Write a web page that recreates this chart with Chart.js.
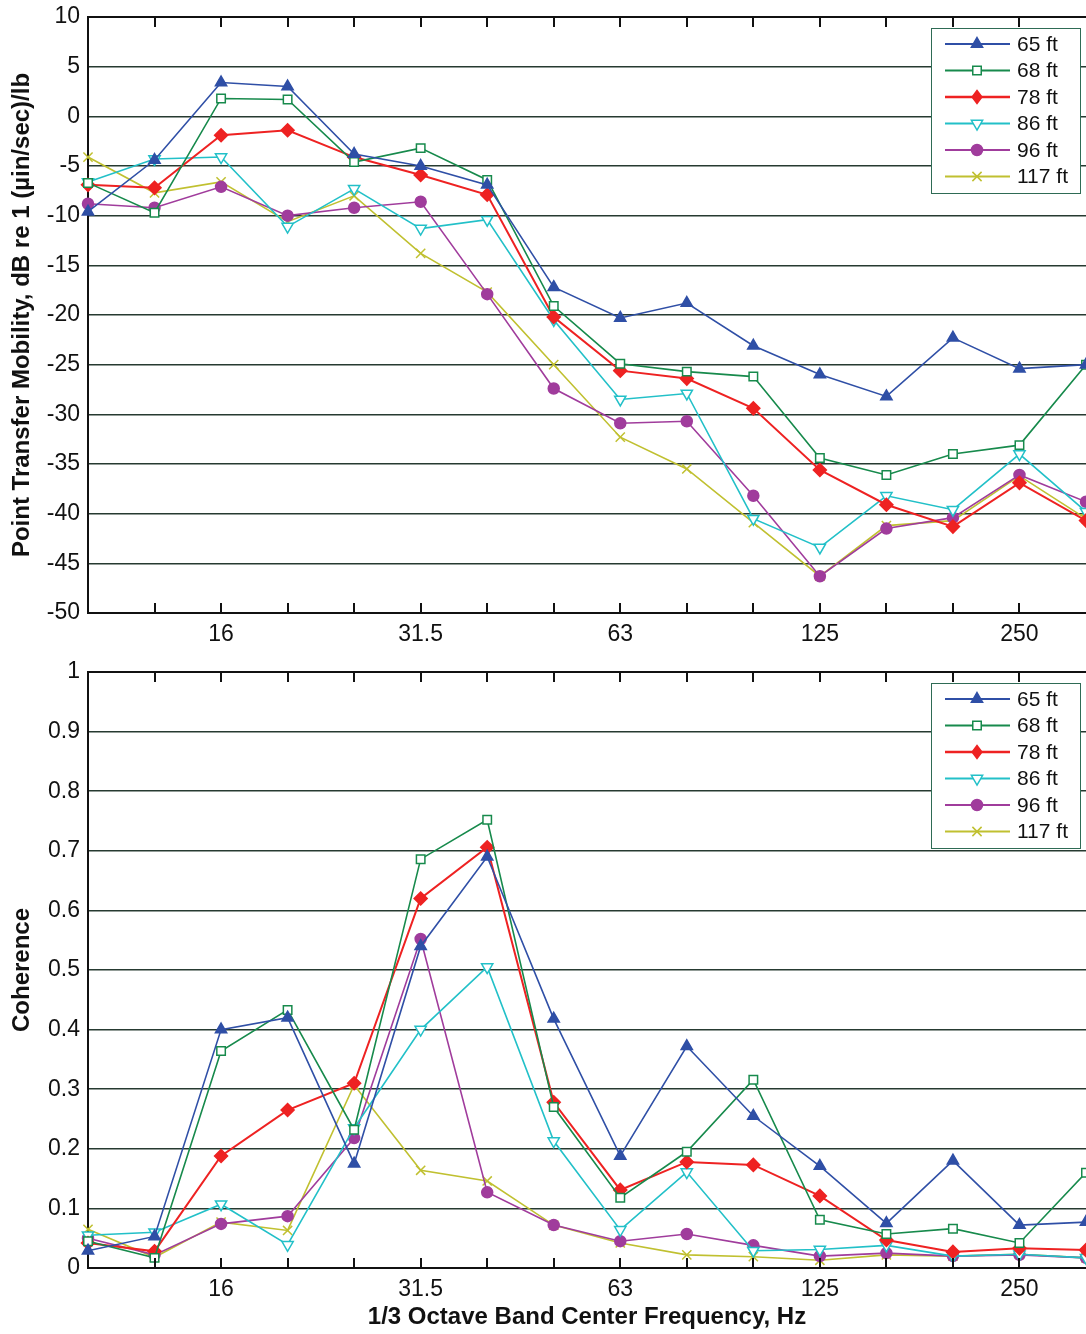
<!DOCTYPE html>
<html>
<head>
<meta charset="utf-8">
<script src="https://cdn.jsdelivr.net/npm/chart.js@4/dist/chart.umd.min.js"></script>
<style>
  html, body { margin: 0; padding: 0; background: #fff; }
  #wrap { position: relative; width: 1086px; height: 1334px; overflow: hidden; }
  canvas { position: absolute; left: 0; }
  #c1 { top: 0; }
  #c2 { top: 650px; }
</style>
</head>
<body>
<div id="wrap">
  <canvas id="c1" width="1086" height="650"></canvas>
  <canvas id="c2" width="1086" height="684"></canvas>
</div>
<script>
// ---- Data ----
const bands = ['10','12.5','16','20','25','31.5','40','50','63','80','100','125','160','200','250','315'];
const labeledBands = ['16','31.5','63','125','250'];
const seriesNames = ['65 ft','68 ft','78 ft','86 ft','96 ft','117 ft'];

const mobility65  = [-9.6, -4.4, 3.4, 3.0, -3.8, -5.0, -6.9, -17.2, -20.3, -18.8, -23.1, -26.0, -28.2, -22.3, -25.4, -25.0];
const mobility68  = [-6.7, -9.7, 1.8, 1.7, -4.6, -3.2, -6.4, -19.1, -24.9, -25.7, -26.2, -34.4, -36.1, -34.0, -33.1, -25.0];
const mobility78  = [-6.9, -7.2, -1.9, -1.4, -4.1, -5.9, -7.9, -20.2, -25.6, -26.4, -29.4, -35.6, -39.1, -41.3, -36.9, -40.7];
const mobility86  = [-6.6, -4.3, -4.1, -11.1, -7.3, -11.3, -10.4, -20.5, -28.5, -27.9, -40.5, -43.4, -38.2, -39.6, -34.0, -39.8];
const mobility96  = [-8.8, -9.2, -7.1, -10.0, -9.2, -8.6, -17.9, -27.4, -30.9, -30.7, -38.2, -46.3, -41.5, -40.4, -36.1, -38.8];
const mobility117 = [-4.1, -7.7, -6.6, -10.6, -8.0, -13.8, -17.7, -25.0, -32.3, -35.5, -40.9, -46.3, -41.2, -40.7, -36.2, -40.5];

const coherence65  = [0.029, 0.053, 0.400, 0.420, 0.175, 0.540, 0.690, 0.418, 0.188, 0.372, 0.255, 0.171, 0.075, 0.180, 0.072, 0.077];
const coherence68  = [0.045, 0.017, 0.364, 0.433, 0.232, 0.686, 0.752, 0.270, 0.118, 0.195, 0.316, 0.081, 0.057, 0.066, 0.042, 0.160];
const coherence78  = [0.042, 0.028, 0.188, 0.265, 0.310, 0.620, 0.706, 0.278, 0.131, 0.178, 0.173, 0.121, 0.047, 0.027, 0.033, 0.030];
const coherence86  = [0.055, 0.060, 0.107, 0.039, 0.235, 0.400, 0.505, 0.213, 0.064, 0.161, 0.029, 0.031, 0.038, 0.020, 0.023, 0.017];
const coherence96  = [0.050, 0.022, 0.074, 0.087, 0.218, 0.552, 0.127, 0.072, 0.045, 0.057, 0.038, 0.020, 0.025, 0.020, 0.022, 0.017];
const coherence117 = [0.065, 0.018, 0.077, 0.063, 0.307, 0.164, 0.146, 0.072, 0.042, 0.022, 0.019, 0.013, 0.022, 0.020, 0.023, 0.017];

const mobilitySeries = [mobility65, mobility68, mobility78, mobility86, mobility96, mobility117];
const coherenceSeries = [coherence65, coherence68, coherence78, coherence86, coherence96, coherence117];

// ---- Styles ----
const styles = [
  { color: '#2f4fa6', pointStyle: 'triangle', rotation: 0,   fill: true,  radius: 6.5, width: 1.6 },
  { color: '#178a4c', pointStyle: 'rect',     rotation: 0,   fill: false, radius: 6,   width: 1.6 },
  { color: '#ee2222', pointStyle: 'rectRot',  rotation: 0,   fill: true,  radius: 6.5, width: 2 },
  { color: '#22c0c8', pointStyle: 'triangle', rotation: 180, fill: false, radius: 6.5, width: 1.6 },
  { color: '#a03c9c', pointStyle: 'circle',   rotation: 0,   fill: true,  radius: 5.5, width: 1.6 },
  { color: '#c0c030', pointStyle: 'crossRot', rotation: 0,   fill: true,  radius: 6.5, width: 1.6 }
];

function makeDatasets(seriesList) {
  return seriesList.map((data, i) => {
    const s = styles[i];
    return {
      label: seriesNames[i],
      data: data,
      borderColor: s.color,
      borderWidth: s.width,
      backgroundColor: s.fill ? s.color : '#ffffff',
      pointStyle: s.pointStyle,
      pointRotation: s.rotation,
      pointRadius: s.radius,
      pointBorderColor: s.color,
      pointBackgroundColor: s.fill ? s.color : '#ffffff',
      pointBorderWidth: 1.5,
      tension: 0,
      fill: false
    };
  });
}

function drawMarker(ctx, s, x, y) {
  const r = s.radius;
  ctx.save();
  ctx.strokeStyle = s.color;
  ctx.fillStyle = s.fill ? s.color : '#ffffff';
  ctx.lineWidth = 1.5;
  ctx.beginPath();
  if (s.pointStyle === 'triangle') {
    const dir = s.rotation === 180 ? -1 : 1;
    ctx.moveTo(x, y - dir * r);
    ctx.lineTo(x + r * 0.866, y + dir * r * 0.5);
    ctx.lineTo(x - r * 0.866, y + dir * r * 0.5);
    ctx.closePath();
    ctx.fill(); ctx.stroke();
  } else if (s.pointStyle === 'rect') {
    const h = r * 0.707;
    ctx.rect(x - h, y - h, 2 * h, 2 * h);
    ctx.fill(); ctx.stroke();
  } else if (s.pointStyle === 'rectRot') {
    ctx.moveTo(x, y - r); ctx.lineTo(x + r * 0.75, y); ctx.lineTo(x, y + r); ctx.lineTo(x - r * 0.75, y);
    ctx.closePath(); ctx.fill(); ctx.stroke();
  } else if (s.pointStyle === 'circle') {
    ctx.arc(x, y, r, 0, Math.PI * 2);
    ctx.fill(); ctx.stroke();
  } else if (s.pointStyle === 'crossRot') {
    const h = r * 0.707;
    ctx.moveTo(x - h, y - h); ctx.lineTo(x + h, y + h);
    ctx.moveTo(x + h, y - h); ctx.lineTo(x - h, y + h);
    ctx.stroke();
  }
  ctx.restore();
}

const framePlugin = {
  id: 'frame',
  afterDraw(chart) {
    const ctx = chart.ctx;
    const a = chart.chartArea;
    const xs = chart.scales.x;
    ctx.save();
    ctx.strokeStyle = '#111';
    ctx.lineWidth = 2;
    ctx.beginPath();
    ctx.moveTo(a.left, a.top); ctx.lineTo(a.right, a.top);
    ctx.stroke();
    for (let i = 1; i < bands.length - 1; i++) {
      const x = Math.round(xs.getPixelForValue(i));
      ctx.beginPath();
      ctx.moveTo(x, a.top); ctx.lineTo(x, a.top + 10);
      ctx.moveTo(x, a.bottom); ctx.lineTo(x, a.bottom - 10);
      ctx.stroke();
    }
    ctx.restore();

    // legend box
    const bx = a.right - 155, by = a.top + 11, bw = 149, bh = 165;
    ctx.save();
    ctx.fillStyle = '#ffffff';
    ctx.fillRect(bx, by, bw, bh);
    ctx.strokeStyle = '#2e6b55';
    ctx.lineWidth = 1;
    ctx.strokeRect(bx + 0.5, by + 0.5, bw, bh);
    ctx.font = '21px "Liberation Sans", Arial, sans-serif';
    ctx.textBaseline = 'middle';
    ctx.textAlign = 'left';
    for (let i = 0; i < seriesNames.length; i++) {
      const y = by + 16 + i * 26.5;
      const s = styles[i];
      ctx.strokeStyle = s.color;
      ctx.lineWidth = s.width + 0.5;
      ctx.beginPath();
      ctx.moveTo(bx + 14, y); ctx.lineTo(bx + 79, y);
      ctx.stroke();
      drawMarker(ctx, s, bx + 46, y);
      ctx.fillStyle = '#111';
      ctx.fillText(seriesNames[i], bx + 86, y + 1);
    }
    ctx.restore();
  }
};

const FONT = '"Liberation Sans", Arial, sans-serif';

function makeChart(id, seriesList, yMin, yMax, yStep, yTitle, padTop, xHeight, xTitle) {
  return new Chart(document.getElementById(id), {
    type: 'line',
    data: { labels: bands, datasets: makeDatasets(seriesList) },
    options: {
      responsive: false,
      animation: false,
      devicePixelRatio: 1,
      layout: { autoPadding: false, padding: { top: padTop, left: 0, right: 0, bottom: 0 } },
      plugins: { legend: { display: false }, tooltip: { enabled: false } },
      scales: {
        x: {
          type: 'category',
          offset: false,
          grid: { display: false, drawTicks: false },
          border: { display: true, color: '#111', width: 2 },
          ticks: {
            autoSkip: false, maxRotation: 0, minRotation: 0, padding: 8,
            color: '#111', font: { family: FONT, size: 23 },
            callback: function (v, i) { const l = bands[i]; return labeledBands.includes(l) ? l : ''; }
          },
          title: xTitle ? { display: true, text: xTitle, color: '#111', font: { family: FONT, size: 24, weight: 'bold' }, padding: { top: 4, bottom: 2 } } : { display: false },
          afterFit: (s) => { s.height = xHeight; s.paddingLeft = 0; s.paddingRight = 0; }
        },
        y: {
          min: yMin, max: yMax,
          grid: { color: '#263a31', lineWidth: 1.5, drawTicks: false },
          border: { display: true, color: '#111', width: 2 },
          ticks: {
            stepSize: yStep, padding: 8, color: '#111', font: { family: FONT, size: 23 },
            callback: (v) => String(Number(v.toFixed(2)))
          },
          title: { display: true, text: yTitle, color: '#111', font: { family: FONT, size: 24, weight: 'bold' }, padding: { top: 8, bottom: 0 } },
          afterFit: (s) => { s.width = 88; s.paddingTop = 0; s.paddingBottom = 0; }
        }
      }
    },
    plugins: [framePlugin]
  });
}

makeChart('c1', mobilitySeries, -50, 10, 5, 'Point Transfer Mobility, dB re 1 (µin/sec)/lb', 17, 37, null);
makeChart('c2', coherenceSeries, 0, 1, 0.1, 'Coherence', 22, 66, '1/3 Octave Band Center Frequency, Hz');
</script>
</body>
</html>
